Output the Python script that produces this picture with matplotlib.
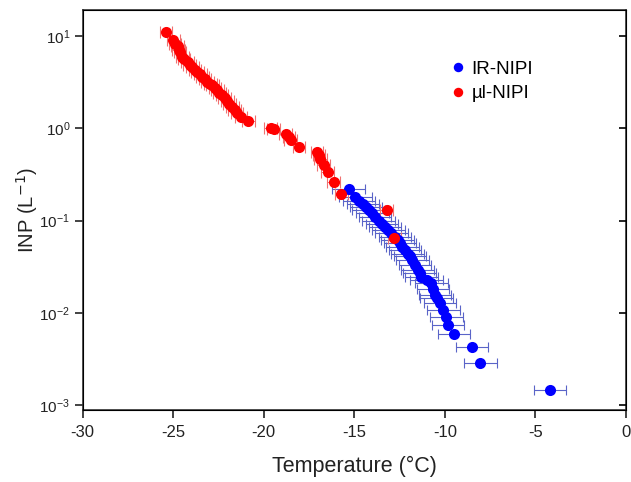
import numpy as np
import matplotlib
matplotlib.use('Agg')
import matplotlib.pyplot as plt

plt.rcParams['font.family'] = ['Liberation Sans', 'DejaVu Sans']
plt.rcParams['axes.unicode_minus'] = False

# ul-NIPI (red) temperature / INP values
ul_temp = [-25.4, -25.0, -24.9, -24.76, -24.7, -24.62, -24.5, -24.4, -24.21, -24.1,
           -23.94, -23.8, -23.67, -23.5, -23.39, -23.25, -23.12, -22.95, -22.84, -22.7,
           -22.57, -22.45, -22.3, -22.15, -22.02, -21.9, -21.74, -21.6, -21.47, -21.26,
           -20.86, -19.62, -19.45, -18.79, -18.6, -18.52, -18.06, -17.06, -16.95, -16.87,
           -16.69, -16.47, -16.14, -15.71, -13.21, -12.79]
ul_inp = [11.0, 9.1, 8.3, 7.8, 7.1, 6.8, 6.0, 5.6, 5.3, 4.9,
          4.6, 4.35, 4.1, 3.85, 3.6, 3.4, 3.2, 3.05, 2.95, 2.75,
          2.6, 2.45, 2.3, 2.15, 2.0, 1.85, 1.72, 1.58, 1.46, 1.33,
          1.21, 1.0, 0.98, 0.88, 0.8, 0.75, 0.63, 0.56, 0.51, 0.47,
          0.40, 0.34, 0.264, 0.194, 0.130, 0.064]
ul_err = 0.35

# IR-NIPI (blue)
ir_temp = [-15.31, -14.95, -14.75, -14.53, -14.35, -14.21, -14.0, -13.85, -13.65, -13.48,
           -13.3, -13.12, -12.95, -12.75, -12.6, -12.47, -12.35, -12.2, -12.05, -11.92,
           -11.8, -11.65, -11.5, -11.4, -11.29, -11.0, -10.74, -10.65, -10.55, -10.46,
           -10.27, -10.09, -9.91, -9.82, -9.49, -8.50, -8.04, -4.2]
ir_inp = [0.223, 0.181, 0.165, 0.153, 0.14, 0.130, 0.12, 0.110, 0.10, 0.093,
          0.086, 0.079, 0.073, 0.067, 0.062, 0.057, 0.052, 0.048, 0.044, 0.041,
          0.037, 0.033, 0.029, 0.027, 0.0246, 0.0225, 0.0209, 0.018, 0.0156, 0.0144,
          0.0127, 0.0107, 0.0091, 0.0074, 0.0059, 0.0043, 0.00288, 0.00146]
ir_err = 0.9

fig = plt.figure(figsize=(6.31, 4.82), dpi=100)
ax = fig.add_axes([0.131, 0.149, 0.861, 0.831])

ax.errorbar(ir_temp, ir_inp, xerr=ir_err, fmt='none', ecolor='#5a64c8',
            elinewidth=0.8, capsize=3.5, capthick=0.8, zorder=2)
ax.errorbar(ul_temp, ul_inp, xerr=ul_err, fmt='none', ecolor='#f07070',
            elinewidth=0.8, capsize=4, capthick=0.8, zorder=2)
ax.plot(ir_temp, ir_inp, 'o', color='#0000ff', ms=8, mec='none', zorder=3, label='IR-NIPI')
ax.plot(ul_temp, ul_inp, 'o', color='#ff0000', ms=8, mec='none', zorder=4, label='\u00b5l-NIPI')

ax.set_yscale('log')
ax.set_xlim(-30, 0)
ax.set_ylim(8.8e-4, 19.4)
ax.set_xticks([-30, -25, -20, -15, -10, -5, 0])
ax.set_yticks([1e-3, 1e-2, 1e-1, 1, 10])
ax.yaxis.set_minor_locator(matplotlib.ticker.NullLocator())
ax.tick_params(axis='both', which='major', direction='out', length=6, width=1.2,
               colors='#222222')
ax.tick_params(axis='x', pad=5, labelsize=12)
ax.tick_params(axis='y', pad=3, labelsize=11)
for sp in ax.spines.values():
    sp.set_linewidth(1.2)
    sp.set_color('#333333')

# inward ticks on the right side
ax2 = ax.twinx()
ax2.set_yscale('log')
ax2.set_ylim(ax.get_ylim())
ax2.set_yticks([1e-3, 1e-2, 1e-1, 1, 10])
ax2.yaxis.set_minor_locator(matplotlib.ticker.NullLocator())
ax2.tick_params(axis='y', direction='in', length=5, width=1.2, labelright=False)

ax.set_xlabel('Temperature (\u00b0C)', fontsize=15.5, color='#222222', labelpad=11)
ax.set_ylabel('INP (L$^{-1}$)', fontsize=14.5, color='#222222')
ax.yaxis.set_label_coords(-0.078, 0.5)

ax.legend(loc='upper left', bbox_to_anchor=(0.648, 0.915), frameon=False,
          fontsize=13.5, markerscale=0.85, handlelength=0.7, handletextpad=0.35,
          labelspacing=0.4)

fig.savefig('out.png', dpi=100)
